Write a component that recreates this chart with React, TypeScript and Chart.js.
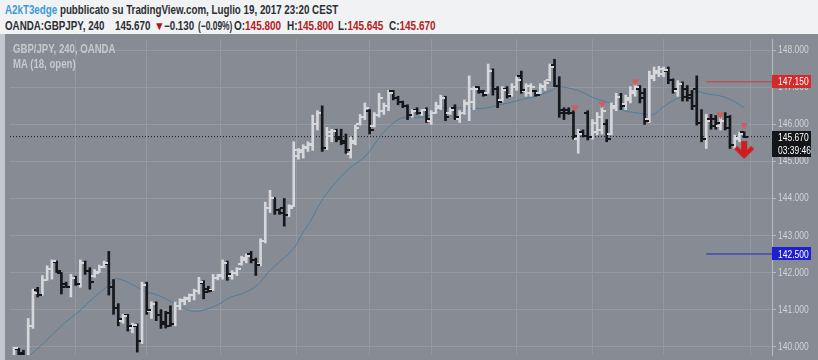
import React, { useEffect, useRef } from 'react';
import { Chart, registerables } from 'chart.js';

Chart.register(...registerables);

// ---- data (GBP/JPY 4h bars) ----
const opens = [
  139.75, 139.93, 139.82, 139.72, 140.55, 141.52, 141.40, 141.80, 142.10, 142.28,
  141.98, 141.68, 141.60, 141.85, 141.70, 142.25, 142.05, 141.90, 142.02, 142.15,
  142.22, 141.60, 141.05, 140.70, 140.85, 140.50, 140.55, 140.15, 141.65, 140.95,
  141.15, 140.85, 140.65, 140.90, 140.60, 141.10, 141.22, 141.28, 141.38, 141.50,
  141.72, 141.55, 141.52, 141.85, 141.90, 142.25, 141.90, 142.00, 142.22, 142.35,
  142.50, 142.35, 142.22, 142.85, 143.75, 144.00, 143.70, 143.75, 143.55, 143.80,
  145.15, 145.25, 145.35, 145.45, 146.00, 146.30, 145.35, 145.70,
  145.82, 145.65, 145.55, 145.20, 145.50, 146.00, 146.20,
  146.35, 145.95, 146.25, 146.35, 146.50, 146.90, 146.72,
  146.60, 146.50, 146.25, 146.40, 146.30, 146.40, 146.10, 146.32, 146.45, 146.70,
  146.30, 146.45, 146.15, 146.30, 146.55, 146.60, 147.00, 146.90, 146.85, 147.45,
  146.95, 146.65, 146.95, 146.80, 147.00, 147.30, 146.90, 146.85, 146.90, 146.85,
  147.00, 147.20, 147.60, 147.05, 146.40, 146.38, 146.30, 145.60, 145.80, 146.30,
  145.65, 145.80, 145.85, 146.00, 145.75, 146.45, 146.75,
  146.55, 146.65, 146.85, 146.95, 146.85, 146.15, 147.25, 147.40,
  147.35, 147.45, 147.20,
  146.90, 147.10, 146.95, 146.80, 146.95, 146.05, 145.60, 146.15, 146.15, 145.95,
  146.10, 146.20, 145.45, 145.60, 145.80,
];
const highs = [
  139.98, 139.95, 139.90, 140.76, 141.55, 141.60, 141.92, 142.18, 142.34, 142.31,
  142.00, 141.74, 141.95, 141.90, 142.34, 142.31, 142.13, 142.08, 142.20, 142.31,
  142.57, 141.81, 141.16, 140.87, 140.87, 140.63, 140.61, 141.74, 141.74, 141.21,
  141.21, 141.00, 140.95, 141.10, 141.20, 141.29, 141.34, 141.42, 141.55, 141.87,
  141.78, 141.63, 141.95, 141.95, 142.34, 142.31, 142.05, 142.13, 142.44, 142.50,
  142.57, 142.39, 142.91, 143.90, 144.22, 144.02, 143.72, 144.00, 143.83, 145.53,
  145.35, 145.45, 145.53, 146.25, 146.37, 146.50, 145.92, 145.87,
  145.87, 145.87, 145.74, 145.66, 145.98, 146.27, 146.58,
  146.40, 146.32, 146.84, 146.58, 146.92, 146.92, 146.76,
  146.63, 146.53, 146.40, 146.45, 146.40, 146.45, 146.37, 146.60, 146.79, 146.76,
  146.45, 146.53, 146.37, 146.66, 147.31, 147.02, 147.02, 146.92, 147.63, 147.50,
  147.02, 147.02, 147.02, 147.10, 147.29, 147.44, 147.10, 147.10, 146.92, 147.10,
  147.18, 147.63, 147.76, 147.29, 146.45, 146.45, 146.37, 145.87, 145.85, 146.37,
  146.13, 146.32, 146.53, 146.13, 146.58, 146.84, 146.84,
  146.79, 147.02, 147.10, 147.05, 146.97, 147.44, 147.55, 147.57,
  147.55, 147.55, 147.23,
  147.18, 147.15, 147.05, 146.92, 147.31, 146.40, 146.27, 146.27, 146.24, 146.24,
  146.32, 146.24, 145.71, 145.79, 145.80,
];
const lows = [
  139.70, 139.60, 139.60, 139.65, 140.49, 141.34, 141.39, 141.79, 141.82, 142.00,
  141.42, 141.60, 141.34, 141.65, 141.60, 141.95, 141.55, 141.87, 142.00, 142.13,
  141.39, 140.87, 140.56, 140.63, 140.42, 140.37, 139.85, 140.08, 140.87, 140.76,
  140.70, 140.49, 140.50, 140.55, 140.56, 141.00, 141.13, 141.21, 141.26, 141.42,
  141.29, 141.47, 141.52, 141.80, 141.82, 141.79, 141.82, 141.92, 142.20, 142.26,
  142.26, 141.92, 142.18, 142.80, 143.62, 143.57, 143.57, 143.25, 143.51, 143.78,
  145.06, 145.09, 145.27, 145.30, 145.85, 145.27, 145.32, 145.53,
  145.53, 145.45, 145.22, 145.09, 145.45, 145.98, 146.13,
  145.74, 145.93, 146.20, 146.27, 146.37, 146.66, 146.53,
  146.45, 146.13, 146.19, 146.27, 146.24, 146.05, 146.00, 146.30, 146.40, 146.10,
  146.27, 146.13, 146.05, 146.27, 146.10, 146.40, 146.84, 146.76, 146.84, 146.79,
  146.45, 146.62, 146.71, 146.76, 146.92, 146.84, 146.76, 146.76, 146.76, 146.84,
  146.92, 147.18, 147.02, 146.19, 146.13, 146.27, 145.60, 145.22, 145.66, 145.58,
  145.60, 145.72, 145.74, 145.53, 145.72, 146.37, 146.40,
  146.40, 146.58, 146.76, 146.58, 146.00, 146.05, 147.18, 147.29,
  147.29, 147.10, 146.84,
  146.76, 146.63, 146.63, 146.40, 145.98, 145.53, 145.35, 145.87, 145.87, 145.85,
  145.85, 145.35, 145.35, 145.53, 145.645,
];
const closes = [
  139.95, 139.80, 139.70, 140.55, 141.45, 141.40, 141.80, 142.10, 142.30, 142.05,
  141.60, 141.62, 141.85, 141.70, 142.25, 142.05, 141.75, 142.00, 142.15, 142.25,
  141.60, 141.05, 140.75, 140.82, 140.55, 140.58, 140.15, 141.65, 141.00, 141.15,
  140.85, 140.60, 140.55, 140.60, 141.10, 141.25, 141.30, 141.38, 141.50, 141.75,
  141.48, 141.50, 141.85, 141.92, 142.25, 141.95, 142.00, 142.10, 142.38, 142.45,
  142.35, 142.20, 142.85, 143.75, 144.00, 143.70, 143.62, 143.55, 143.75, 145.30,
  145.30, 145.40, 145.48, 146.00, 146.30, 145.35, 145.80, 145.82,
  145.60, 145.50, 145.30, 145.55, 145.90, 146.20, 146.45,
  145.85, 146.25, 146.70, 146.50, 146.85, 146.72, 146.60,
  146.50, 146.25, 146.35, 146.32, 146.38, 146.15, 146.30, 146.50, 146.70, 146.20,
  146.40, 146.20, 146.30, 146.58, 146.95, 146.95, 146.88, 146.80, 147.45, 146.95,
  146.60, 146.92, 146.78, 147.00, 147.20, 146.92, 147.05, 147.02, 146.80, 147.05,
  147.12, 147.55, 147.05, 146.30, 146.32, 146.32, 145.68, 145.75, 145.70, 145.65,
  146.05, 146.20, 146.35, 145.60, 146.50, 146.75, 146.50,
  146.70, 146.90, 147.00, 146.70, 146.10, 147.30, 147.45, 147.50,
  147.48, 147.20, 146.95,
  147.10, 146.75, 146.70, 146.50, 146.05, 145.60, 146.10, 145.95, 146.05, 146.10,
  145.90, 145.45, 145.62, 145.75, 145.67,
];

// MA (18, open) as seen on the picture: bar position and value
const maIdx = [
  2, 6.8, 10.4, 13.7, 17, 20, 21.6, 22.6, 25.2, 28, 29.6, 31.2, 34.4, 36.4, 38.4, 40.4,
  43, 45.8, 48, 51.5, 53.6, 56.4, 59, 61, 62.4, 65, 70.6, 74.1, 78.4, 82.6, 85.2, 88,
  90.8, 94, 96.7, 99.8, 102.6, 106.8, 110.8, 113.4, 115, 116.2, 119.5, 122.4, 125.6,
  128.7, 131, 134.5, 136.7, 139.2, 142.2, 144.2, 145.6, 149.2, 151.8, 154,
];
const maVal = [
  139.6, 140.16, 140.61, 140.95, 141.34, 141.66, 141.84, 141.81, 141.66, 141.47, 141.42,
  141.34, 141.13, 141.0, 140.95, 141.0, 141.13, 141.34, 141.42, 141.68, 142.0, 142.34,
  142.65, 143.09, 143.36, 143.96, 144.8, 145.14, 145.85, 146.19, 146.19, 146.26, 146.45,
  146.45, 146.42, 146.45, 146.53, 146.66, 146.79, 146.92, 147.02, 147.0, 146.89, 146.71,
  146.58, 146.37, 146.32, 146.26, 146.45, 146.66, 146.79, 146.89, 146.84, 146.76, 146.63,
  146.45,
];

const yTicks = [140, 141, 142, 143, 144, 145, 146, 147, 148];
const timeGridIdx = [13, 28, 43.5, 59.5, 75, 88, 106, 122, 137, 155.3];

const signalIdx = [118.3, 124, 131, 149, 154];
const signalPrice = [146.45, 146.55, 147.15, 146.26, 145.98];
const arrowIdx = [154];
const arrowPrice = [145.3];

const resistanceLevel = 147.15;
const supportLevel = 142.5;
const lastPrice = 145.67;
const rayStartIdx = 146;
const countdown = '03:39:46';

// header quote line: [label, value]
const quoteLabels = ['O:', 'H:', 'L:', 'C:'];
const quoteValues = ['145.800', '145.800', '145.645', '145.670'];

// ---- styles ----
const BG = '#878b93';
const GRID = '#959aa1';
const AXIS = '#b8bbc1';
const LABEL = '#d2d4d8';
const UP = '#d5d7db';
const DOWN = '#15171b';
const MA_COLOR = '#4b7ea1';
const RED = '#d42a2a';
const BLUE = '#1f1fd2';
const FONT = '"Liberation Sans", Arial, sans-serif';
const SX = 0.77;
const HEADER_SX = 0.815;
const quoteLeft = [234, 287, 338, 389];

function tickImage(color: string, side: 'open' | 'close'): HTMLCanvasElement {
  const c = document.createElement('canvas');
  c.width = 8;
  c.height = 2;
  const g = c.getContext('2d')!;
  g.fillStyle = color;
  if (side === 'open') g.fillRect(0, 0, 4, 2);
  else g.fillRect(4, 0, 4, 2);
  return c;
}

function arrowImage(color: string): HTMLCanvasElement {
  const c = document.createElement('canvas');
  c.width = 20;
  c.height = 19;
  const g = c.getContext('2d')!;
  g.fillStyle = color;
  g.fillRect(7, 0, 6, 13);
  g.beginPath();
  g.moveTo(0, 8);
  g.lineTo(3, 5);
  g.lineTo(10, 12);
  g.lineTo(17, 5);
  g.lineTo(20, 8);
  g.lineTo(10, 18);
  g.closePath();
  g.fill();
  return c;
}

function condText(ctx: CanvasRenderingContext2D, text: string, x: number, y: number) {
  ctx.save();
  ctx.translate(x, y);
  ctx.scale(SX, 1);
  ctx.fillText(text, 0, 0);
  ctx.restore();
}

export default function App() {
  const ref = useRef<HTMLCanvasElement>(null);

  useEffect(() => {
    const n = opens.length;
    const idx = opens.map((_, i) => i);
    const isUp = idx.map((i) => closes[i] >= opens[i]);
    const ppb = (744 - 9) / (n - 1);
    const xMin = -(9 - 5) / ppb;
    const xMax = xMin + 767 / ppb;
    const yMax = 148 + (45.7 - 34) / 38.2;
    const yMin = yMax - 326 / 38.2;

    const openUp = tickImage(UP, 'open');
    const openDown = tickImage(DOWN, 'open');
    const closeUp = tickImage(UP, 'close');
    const closeDown = tickImage(DOWN, 'close');
    const arrow = arrowImage('#d11d1d');

    const overlay = {
      id: 'overlay',
      beforeDraw(chart: any) {
        const { ctx, width, height } = chart;
        ctx.save();
        ctx.fillStyle = BG;
        ctx.fillRect(0, 0, width, height);
        ctx.restore();
      },
      afterDraw(chart: any) {
        const { ctx, chartArea } = chart;
        const y = chart.scales.y;
        const right = chartArea.right;
        const lx = right + 6;
        ctx.save();
        ctx.font = `11px ${FONT}`;
        ctx.textBaseline = 'middle';
        ctx.fillStyle = LABEL;
        yTicks.forEach((v) => condText(ctx, v.toFixed(3), lx, y.getPixelForValue(v)));
        const tag = (value: number, text: string, color: string, dy = 0) => {
          const py = y.getPixelForValue(value) + dy;
          ctx.fillStyle = color;
          ctx.fillRect(right, Math.round(py - 6.5), 39, 13);
          ctx.fillStyle = '#ffffff';
          condText(ctx, text, lx, py + 0.5);
        };
        tag(resistanceLevel, resistanceLevel.toFixed(3), RED);
        tag(supportLevel, supportLevel.toFixed(3), BLUE);
        tag(lastPrice, lastPrice.toFixed(3), '#131519', 1);
        tag(lastPrice, countdown, '#131519', 14);
        ctx.restore();
      },
    };

    const chart = new Chart(ref.current!, {
      type: 'scatter',
      data: {
        datasets: [
          {
            type: 'line',
            data: [
              { x: xMin, y: lastPrice },
              { x: xMax, y: lastPrice },
            ],
            borderColor: '#1b1c1f',
            borderWidth: 1,
            borderDash: [1, 2],
            pointRadius: 0,
            order: 30,
          },
          {
            type: 'line',
            data: [
              { x: rayStartIdx, y: resistanceLevel },
              { x: xMax, y: resistanceLevel },
            ],
            borderColor: '#d33a3a',
            borderWidth: 1,
            pointRadius: 0,
            order: 29,
          },
          {
            type: 'line',
            data: [
              { x: rayStartIdx, y: supportLevel },
              { x: xMax, y: supportLevel },
            ],
            borderColor: '#2626cc',
            borderWidth: 1,
            pointRadius: 0,
            order: 28,
          },
          {
            type: 'line',
            data: maIdx.map((x, i) => ({ x, y: maVal[i] })),
            borderColor: MA_COLOR,
            borderWidth: 1,
            pointRadius: 0,
            cubicInterpolationMode: 'monotone',
            order: 20,
          },
          {
            type: 'bar',
            data: idx.map((i) => ({ x: i, y: [lows[i], highs[i]] })) as any,
            backgroundColor: idx.map((i) => (isUp[i] ? UP : DOWN)),
            borderWidth: 0,
            barThickness: 2,
            grouped: false,
            order: 10,
          } as any,
          {
            type: 'scatter',
            data: idx.map((i) => ({ x: i, y: opens[i] })),
            pointStyle: idx.map((i) => (isUp[i] ? openUp : openDown)) as any,
            pointRadius: 1,
            order: 9,
          },
          {
            type: 'scatter',
            data: idx.map((i) => ({ x: i, y: closes[i] })),
            pointStyle: idx.map((i) => (isUp[i] ? closeUp : closeDown)) as any,
            pointRadius: 1,
            order: 8,
          },
          {
            type: 'scatter',
            data: signalIdx.map((x, i) => ({ x, y: signalPrice[i] })),
            pointStyle: 'triangle',
            rotation: 180,
            pointRadius: 4.4,
            backgroundColor: '#d05c60',
            borderWidth: 0,
            order: 2,
          },
          {
            type: 'scatter',
            data: arrowIdx.map((x, i) => ({ x, y: arrowPrice[i] })),
            pointStyle: arrow as any,
            pointRadius: 1,
            order: 1,
          },
        ],
      },
      options: {
        responsive: false,
        animation: false,
        events: [],
        layout: { padding: 0 },
        plugins: {
          legend: { display: false },
          tooltip: { enabled: false },
          title: { display: false },
        },
        scales: {
          x: {
            type: 'linear',
            min: xMin,
            max: xMax,
            offset: false,
            grid: { color: GRID, drawTicks: false, offset: false, lineWidth: 1 },
            border: { display: false },
            ticks: { display: false },
            afterBuildTicks: (s: any) => {
              s.ticks = timeGridIdx.map((v) => ({ value: v }));
            },
            afterFit: (s: any) => {
              s.height = 0;
              s.paddingLeft = 0;
              s.paddingRight = 0;
              s.paddingTop = 0;
              s.paddingBottom = 0;
            },
          },
          y: {
            type: 'linear',
            position: 'right',
            min: yMin,
            max: yMax,
            grid: { color: GRID, tickColor: AXIS, tickLength: 4, drawTicks: true, lineWidth: 1 },
            border: { display: true, color: AXIS, width: 1 },
            ticks: { display: false },
            afterBuildTicks: (s: any) => {
              s.ticks = yTicks.map((v) => ({ value: v }));
            },
            afterFit: (s: any) => {
              s.width = 46;
              s.paddingTop = 0;
              s.paddingBottom = 0;
              s.paddingLeft = 0;
              s.paddingRight = 0;
            },
          },
        },
      } as any,
      plugins: [overlay],
    });
    return () => chart.destroy();
  }, []);

  const textBase: React.CSSProperties = {
    position: 'absolute',
    whiteSpace: 'nowrap',
    font: `bold 12px ${FONT}`,
    lineHeight: '14px',
    transform: `scaleX(${HEADER_SX})`,
    transformOrigin: '0 0',
    color: '#2c2e33',
  };
  const red: React.CSSProperties = { color: '#b52020' };
  const inChart: React.CSSProperties = {
    position: 'absolute',
    left: 13,
    whiteSpace: 'nowrap',
    font: `bold 12px ${FONT}`,
    lineHeight: '14px',
    transform: 'scaleX(0.8)',
    transformOrigin: '0 0',
    color: '#c6c9ce',
  };
  const L2 = 19;

  return (
    <div
      style={{
        position: 'fixed',
        left: 0,
        top: 0,
        width: 818,
        height: 360,
        overflow: 'hidden',
        background: '#f1f2f4',
      }}
    >
      <div style={{ ...textBase, left: 5, top: 3 }}>
        <span style={{ color: '#3c9ad7' }}>A2kT3edge</span> pubblicato su TradingView.com, Luglio 19, 2017 23:20 CEST
      </div>
      <div style={{ ...textBase, left: 5, top: L2 }}>OANDA:GBPJPY, 240</div>
      <div style={{ ...textBase, left: 115, top: L2 }}>145.670</div>
      <div
        style={{
          ...textBase,
          color: '#a81a1a',
          left: 154,
          top: L2,
          fontSize: 12,
          transform: 'scaleX(0.9)',
        }}
      >
        ▼
      </div>
      <div style={{ ...textBase, left: 164, top: L2 }}>−0.130</div>
      <div style={{ ...textBase, left: 198, top: L2, transform: 'scaleX(0.7)' }}>(−0.09%)</div>
      {quoteLabels.map((lab, i) => (
        <div key={lab} style={{ ...textBase, left: quoteLeft[i], top: L2, transform: 'scaleX(0.83)' }}>
          {lab}
          <span style={red}>{quoteValues[i]}</span>
        </div>
      ))}
      <div style={{ position: 'absolute', left: 0, top: 34, width: 5, height: 326, background: '#c3c6cc' }} />
      <div style={{ position: 'absolute', left: 5, top: 34, width: 813, height: 326 }}>
        <canvas ref={ref} width={813} height={326} style={{ display: 'block' }} />
      </div>
      <div style={{ ...inChart, top: 42 }}>GBP/JPY, 240, OANDA</div>
      <div style={{ ...inChart, top: 57 }}>MA (18, open)</div>
    </div>
  );
}
